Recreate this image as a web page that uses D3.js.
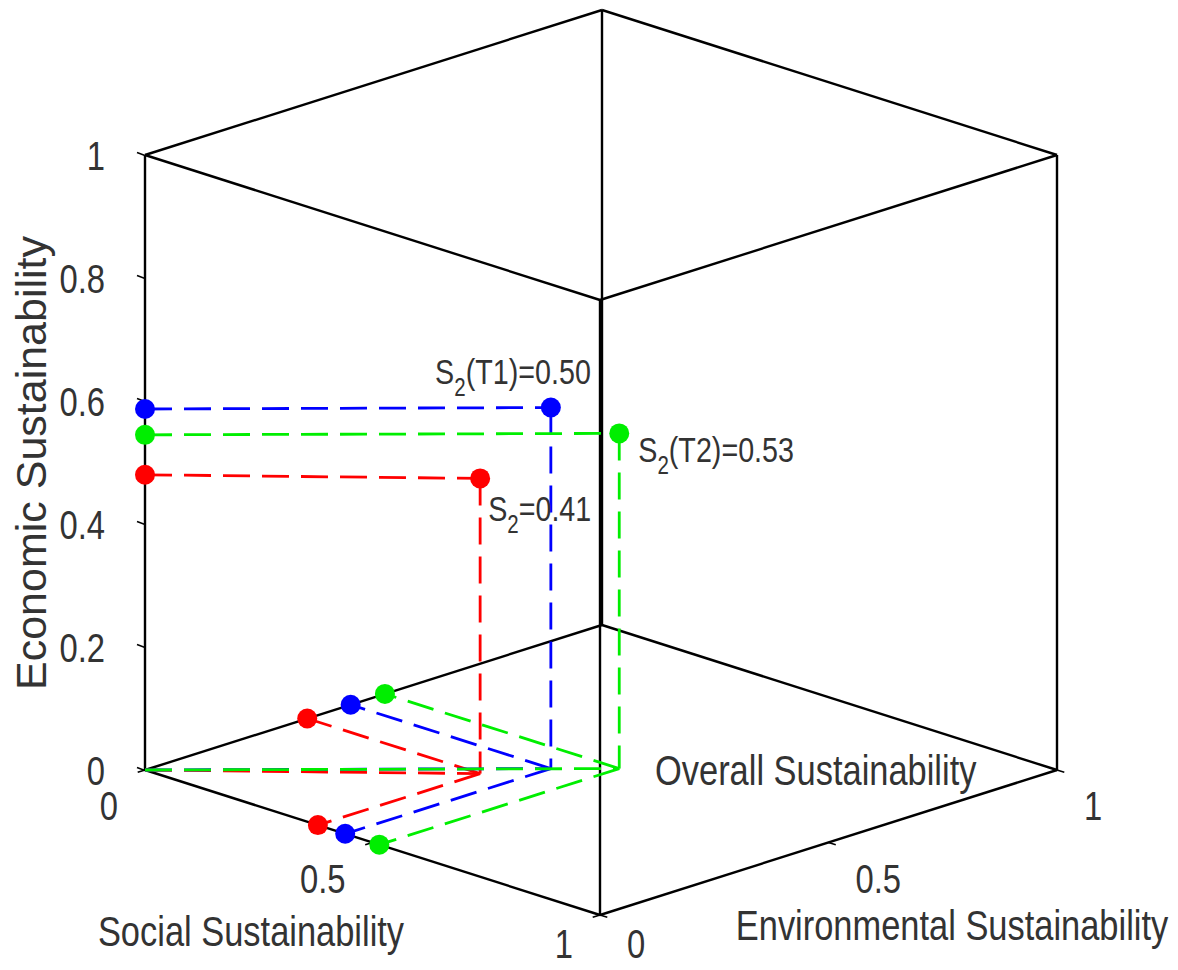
<!DOCTYPE html>
<html>
<head>
<meta charset="utf-8">
<script src="https://cdn.jsdelivr.net/npm/d3@7"></script>
<style>
  body { margin: 0; background: #fff; }
  svg text { font-family: "Liberation Sans", Arial, sans-serif; fill: #333; }
</style>
</head>
<body>
<svg width="1178" height="970"></svg>
<script>
// values (S = social, E = environmental, C = economic)
const seriesNames = ["S2", "S2(T1)", "S2(T2)"];
const overallValues = [0.41, 0.50, 0.53];
const socialValues = [0.38, 0.44, 0.515];
const environmentalValues = [0.355, 0.45, 0.525];
const economicValues = [0.48, 0.587, 0.545];
const seriesColors = ["#ff0000", "#0000ff", "#00ee00"];

const economicTicks = [0, 0.2, 0.4, 0.6, 0.8, 1];
const floorTicks = [0, 0.5, 1];

const svg = d3.select("svg");
const narrow = 0.82; // the figure uses a condensed face

// oblique projection of the unit cube
const originX = 145;
const sx = d3.scaleLinear().domain([0, 1]).range([0, 455]);
const sy = d3.scaleLinear().domain([0, 1]).range([0, 145]);
const ex = d3.scaleLinear().domain([0, 1]).range([0, 457]);
const ey = d3.scaleLinear().domain([0, 1]).range([0, -145]);
const cy = d3.scaleLinear().domain([0, 1]).range([770, 155]);

function project(s, e, c) {
  return [originX + sx(s) + ex(e), cy(c) + sy(s) + ey(e)];
}

// text squeezed horizontally around its anchor point
function label(x, y, str, size, anchor) {
  const t = svg.append("g")
    .attr("transform", `translate(${x},${y}) scale(${narrow},1)`)
    .append("text")
    .attr("text-anchor", anchor || "start")
    .attr("font-size", size);
  if (str !== null) t.text(str);
  return t;
}

const line = d3.line();

// cube edges: every pair of corners that differ in one coordinate
const corners = [];
[0, 1].forEach(s => [0, 1].forEach(e => [0, 1].forEach(c => corners.push([s, e, c]))));
const edges = [];
corners.forEach((a, i) => corners.forEach((b, j) => {
  if (j > i && d3.sum(a, (v, k) => Math.abs(v - b[k])) === 1) edges.push([a, b]);
}));

svg.append("g").selectAll("path")
  .data(edges)
  .enter()
  .append("path")
  .attr("d", d => line(d.map(p => project(...p))))
  .attr("fill", "none")
  .attr("stroke", "#000")
  .attr("stroke-width", 2.4);

// economic axis (vertical) with d3 axis for the labels
const axisG = svg.append("g")
  .attr("transform", `translate(${originX},0)`)
  .call(d3.axisLeft(cy).tickValues(economicTicks).tickSizeInner(8).tickSizeOuter(0).tickPadding(40).tickFormat(d3.format("")));
axisG.select(".domain").remove();
axisG.attr("font-family", null).attr("font-size", 40);
axisG.selectAll(".tick line").attr("y2", -3).attr("stroke", "#000").attr("stroke-width", 1.5);
axisG.selectAll(".tick text")
  .style("fill", "#333")
  .attr("dy", "0.36em")
  .attr("x", -40 / narrow)
  .attr("transform", `scale(${narrow},1)`);

// keep bottom tick labels inside the picture
const floorLabelY = y => Math.min(y + 50, 958);

// social axis ticks along the front-left floor edge
floorTicks.forEach(t => {
  svg.append("path")
    .attr("d", line([project(t, 0, 0), project(t, -0.016, 0)]))
    .attr("stroke", "#000").attr("stroke-width", 1.5);
  const p = project(t, 0, 0);
  label(p[0] - 27, floorLabelY(p[1]), d3.format("")(t), 40, "end");
});

// environmental axis ticks along the front-right floor edge
floorTicks.forEach(t => {
  svg.append("path")
    .attr("d", line([project(1, t, 0), project(1.016, t, 0)]))
    .attr("stroke", "#000").attr("stroke-width", 1.5);
  const p = project(1, t, 0);
  label(p[0] + 27, floorLabelY(p[1]), d3.format("")(t), 40, "start");
});

// axis titles
label(251, 946, "Social Sustainability", 42, "middle");
label(952, 940, "Environmental Sustainability", 42, "middle");

svg.append("text")
  .attr("transform", "translate(46,463) rotate(-90)")
  .attr("text-anchor", "middle")
  .attr("font-size", 43)
  .text("Economic Sustainability");

const mid = project(0.5, 0.5, 0);
label(mid[0] + 54, mid[1] + 15, "Overall Sustainability", 42, "start");

// projection lines for each case
const series = seriesNames.map((name, i) => ({
  name: name,
  overall: overallValues[i],
  s: socialValues[i],
  e: environmentalValues[i],
  c: economicValues[i],
  color: seriesColors[i]
}));

const segG = svg.append("g");
series.forEach(d => {
  const segs = [
    [[0, 0, d.c], [d.s, d.e, d.c]],
    [[d.s, d.e, d.c], [d.s, d.e, 0]],
    [[d.s, d.e, 0], [d.s, 0, 0]],
    [[d.s, d.e, 0], [0, d.e, 0]],
    [[0, 0, 0], [d.s, d.e, 0]]
  ];
  segG.selectAll(null)
    .data(segs)
    .enter()
    .append("path")
    .attr("d", seg => line(seg.map(p => project(...p))))
    .attr("fill", "none")
    .attr("stroke", d.color)
    .attr("stroke-width", 2.8)
    .attr("stroke-dasharray", "27 12");
});

const dotG = svg.append("g");
series.forEach(d => {
  const pts = [[0, 0, d.c], [d.s, d.e, d.c], [d.s, 0, 0], [0, d.e, 0]];
  dotG.selectAll(null)
    .data(pts)
    .enter()
    .append("circle")
    .attr("cx", p => project(...p)[0])
    .attr("cy", p => project(...p)[1])
    .attr("r", 10)
    .attr("fill", d.color);
});

// value labels next to each point
const labelOffsets = [[8, 43, "start"], [40, -24, "end"], [19, 29, "start"]];
series.forEach((d, i) => {
  const p = project(d.s, d.e, d.c);
  const t = label(p[0] + labelOffsets[i][0], p[1] + labelOffsets[i][1], null, 35, labelOffsets[i][2]);
  t.append("tspan").text("S");
  t.append("tspan").attr("font-size", 25).attr("dy", 12).text("2");
  t.append("tspan").attr("dy", -12).text(d.name.slice(2) + "=" + d3.format(".2f")(d.overall));
});
</script>
</body>
</html>
